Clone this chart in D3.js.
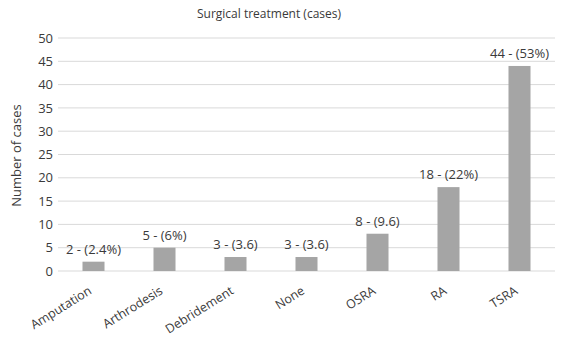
<!DOCTYPE html>
<html>
<head>
<meta charset="utf-8">
<script src="https://cdn.jsdelivr.net/npm/d3@7"></script>
<style>
  body { margin: 0; background: #fff; }
  text { font-family: "Open Sans", "DejaVu Sans", sans-serif; fill: #3a3a3a; }
</style>
</head>
<body>
<div id="chart"></div>
<script>
// Chart data
const categories = ["Amputation", "Arthrodesis", "Debridement", "None", "OSRA", "RA", "TSRA"];
const cases = [2, 5, 3, 3, 8, 18, 44];
const labels = ["2 - (2.4%)", "5 - (6%)", "3 - (3.6)", "3 - (3.6)", "8 - (9.6)", "18 - (22%)", "44 - (53%)"];
const yTicks = [0, 5, 10, 15, 20, 25, 30, 35, 40, 45, 50];

const W = 565, H = 337;
const margin = { top: 38, right: 10, bottom: 66, left: 58 };
const width = W - margin.left - margin.right;
const height = H - margin.top - margin.bottom;

const svg = d3.select("#chart")
    .append("svg")
    .attr("width", W)
    .attr("height", H);

const g = svg.append("g")
    .attr("transform", `translate(${margin.left},${margin.top})`);

const x = d3.scaleBand()
    .domain(categories)
    .range([0, width])
    .paddingInner(0.69)
    .paddingOuter(0.345);

const y = d3.scaleLinear()
    .domain([0, 50])
    .range([height, 0]);

// Gridlines
g.selectAll(".grid")
    .data(yTicks)
    .enter()
    .append("line")
    .attr("x1", 0)
    .attr("x2", width)
    .attr("y1", d => y(d))
    .attr("y2", d => y(d))
    .attr("stroke", "#d9d9d9")
    .attr("stroke-width", 1);

// Y axis
const yAxis = g.append("g")
    .call(d3.axisLeft(y).tickValues(yTicks).tickSize(0).tickPadding(5));
yAxis.select(".domain").remove();
yAxis.selectAll("text")
    .style("font-size", "13px")
    .style("font-family", "Open Sans, sans-serif")
    .attr("fill", "#3a3a3a");

// X axis
const xAxis = g.append("g")
    .attr("transform", `translate(0,${height})`)
    .call(d3.axisBottom(x).tickSize(0).tickPadding(0));
xAxis.select(".domain").remove();
xAxis.selectAll("text")
    .style("font-size", "12.5px")
    .style("font-family", "Open Sans, sans-serif")
    .attr("fill", "#3a3a3a")
    .attr("text-anchor", "end")
    .attr("dy", 0)
    .attr("transform", "translate(-1,22) rotate(-32)");

// Bars
g.selectAll(".bar")
    .data(cases)
    .enter()
    .append("rect")
    .attr("class", "bar")
    .attr("x", (d, i) => x(categories[i]))
    .attr("y", d => y(d))
    .attr("width", x.bandwidth())
    .attr("height", d => height - y(d))
    .attr("fill", "#a5a5a5");

// Value labels
g.selectAll(".lbl")
    .data(cases)
    .enter()
    .append("text")
    .attr("x", (d, i) => x(categories[i]) + x.bandwidth() / 2)
    .attr("y", d => y(d) - 8)
    .attr("text-anchor", "middle")
    .style("font-size", "13px")
    .text((d, i) => labels[i]);

// Title
svg.append("text")
    .attr("x", 269)
    .attr("y", 18)
    .attr("text-anchor", "middle")
    .style("font-size", "12px")
    .text("Surgical treatment (cases)");

// Y axis label
svg.append("text")
    .attr("transform", `translate(21,${margin.top + height / 2 + 1}) rotate(-90)`)
    .attr("text-anchor", "middle")
    .style("font-size", "13px")
    .text("Number of cases");
</script>
</body>
</html>
